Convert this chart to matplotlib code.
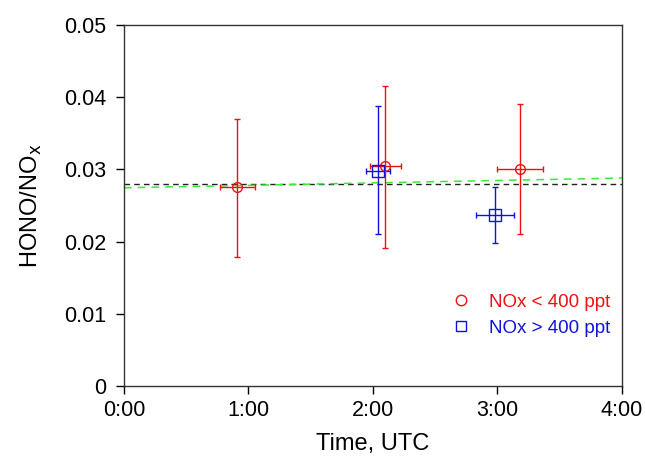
import matplotlib
matplotlib.use("Agg")
import matplotlib.pyplot as plt
import numpy as np
from matplotlib.lines import Line2D

plt.rcParams["font.family"] = ["Liberation Sans", "DejaVu Sans"]

# NOx < 400 ppt
low_t = [0.91, 2.10, 3.18]
low_terr = [0.14, 0.125, 0.185]
low_ratio = [0.0275, 0.0305, 0.0300]
low_lo = [0.0179, 0.0191, 0.0211]
low_hi = [0.0370, 0.0416, 0.0390]

# NOx > 400 ppt
high_t = [2.04, 2.98]
high_terr = [0.10, 0.15]
high_ratio = [0.0298, 0.0237]
high_lo = [0.0211, 0.0198]
high_hi = [0.0388, 0.0275]

# reference lines
mean_ratio = 0.02795
fit_t = [0.0, 4.0]
fit_ratio = [0.02745, 0.02880]

x_ticks = [0, 1, 2, 3, 4]
x_labels = ["0:00", "1:00", "2:00", "3:00", "4:00"]
y_ticks = [0, 0.01, 0.02, 0.03, 0.04, 0.05]
y_labels = ["0", "0.01", "0.02", "0.03", "0.04", "0.05"]

fig = plt.figure(figsize=(6.45, 4.57), dpi=100)
ax = fig.add_axes([0.1922, 0.1554, 0.7721, 0.79])

red = "#ee1111"
blue = "#1111dd"

ax.plot([0, 4], [mean_ratio, mean_ratio], color="#222222", lw=1.0,
        dashes=(4, 3))
ax.plot(fit_t, fit_ratio, color="#33ee33", lw=1.1, dashes=(5, 4))

low_yerr = [np.array(low_ratio) - np.array(low_lo), np.array(low_hi) - np.array(low_ratio)]
high_yerr = [np.array(high_ratio) - np.array(high_lo), np.array(high_hi) - np.array(high_ratio)]

ax.errorbar(low_t, low_ratio, xerr=low_terr, yerr=low_yerr, fmt="o",
            mfc="none", mec=red, ms=7, mew=1.0, ecolor=red, elinewidth=1.0,
            capsize=2.5, capthick=1.0)
ax.errorbar(high_t, high_ratio, xerr=high_terr, yerr=high_yerr, fmt="s",
            mfc="none", mec=blue, ms=8, mew=1.0, ecolor=blue, elinewidth=1.0,
            capsize=2.5, capthick=1.0)

ax.set_xlim(0, 4)
ax.set_ylim(0, 0.05)
ax.set_xticks(x_ticks)
ax.set_xticklabels(x_labels)
ax.set_yticks(y_ticks)
ax.set_yticklabels(y_labels)
ax.tick_params(direction="out", length=6, width=1, labelsize=15.5,
               top=False, right=False)
ax.tick_params(axis="x", pad=4)
ax.tick_params(axis="y", pad=7)
for s in ax.spines.values():
    s.set_linewidth(1.0)
    s.set_color("#333333")

ax.set_xlabel("Time, UTC", fontsize=17, labelpad=9)
ax.set_ylabel("HONO/NO$_{\\mathrm{x}}$", fontsize=17, labelpad=14)

handles = [
    Line2D([], [], ls="none", marker="o", mfc="none", mec=red, ms=7.5),
    Line2D([], [], ls="none", marker="s", mfc="none", mec=blue, ms=7.5),
]
leg = ax.legend(handles, ["NOx < 400 ppt", "NOx > 400 ppt"], frameon=False,
                loc="lower right", bbox_to_anchor=(1.01, 0.09), fontsize=13.5,
                handlelength=1.0, handletextpad=1.0, labelspacing=0.45)
for txt, c in zip(leg.get_texts(), [red, blue]):
    txt.set_color(c)

fig.savefig("out.png", dpi=100)
